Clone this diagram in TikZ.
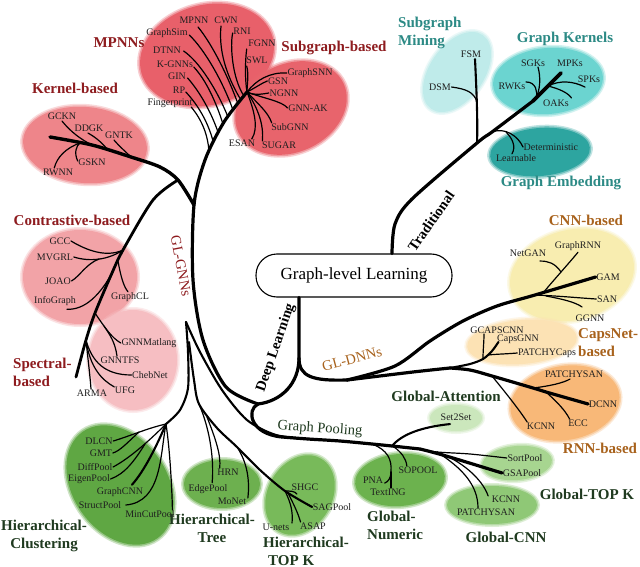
\documentclass[tikz,border=0pt]{standalone}
\usepackage{fontspec}
\setmainfont{Liberation Serif}
\usetikzlibrary{calc}
\definecolor{cMP}{HTML}{E8606A}
\definecolor{cSB}{HTML}{E8646C}
\definecolor{cKB}{HTML}{EE858A}
\definecolor{cCB}{HTML}{F2A3A7}
\definecolor{cSP}{HTML}{F6BEC2}
\definecolor{cSM}{HTML}{BFEBEA}
\definecolor{cGK}{HTML}{6BD4D0}
\definecolor{cGE}{HTML}{2DA5A0}
\definecolor{cCN}{HTML}{F8EDB0}
\definecolor{cCA}{HTML}{FCE2B4}
\definecolor{cRN}{HTML}{F8B878}
\definecolor{cGA}{HTML}{CBE7BC}
\definecolor{cGT}{HTML}{A7D590}
\definecolor{cGC}{HTML}{8FC876}
\definecolor{cGN}{HTML}{6CB24E}
\definecolor{cHK}{HTML}{78BA5A}
\definecolor{cHT}{HTML}{6DB04F}
\definecolor{cHC}{HTML}{5FA743}
\definecolor{tRed}{HTML}{8E1C1F}
\definecolor{tTeal}{HTML}{2C8A85}
\definecolor{tBrown}{HTML}{A8621C}
\definecolor{tGreen}{HTML}{1F3A1F}
\newcommand\myblob[5]{%
  \fill[#5, opacity=0.3, rotate around={#4:#1}] #1 ellipse ({#2+3} and {#3+3});
  \fill[#5, opacity=0.5, rotate around={#4:#1}] #1 ellipse ({#2+1.5} and {#3+1.5});
  \fill[#5, rotate around={#4:#1}] #1 ellipse (#2 and #3);}
\begin{document}
\begin{tikzpicture}[x=1pt,y=-1pt,line join=round,
  leaf/.style={font=\fontsize{10}{11}\selectfont, inner sep=0.5pt, text=black!88},
  cat/.style={font=\fontsize{15}{18}\selectfont\bfseries, inner sep=0pt},
  brl/.style={font=\fontsize{14.5}{16}\selectfont, inner sep=0pt},
  brb/.style={font=\fontsize{14.5}{16}\selectfont\bfseries, inner sep=0pt},
  lf/.style={line width=1.2pt, line cap=round},
  md/.style={line width=2.1pt, line cap=round},
  tk/.style={line width=3.2pt, line cap=round}]
\useasboundingbox (0,0) rectangle (640,567);
\fill[white] (0,0) rectangle (640,567);
% ---------------- blobs
\myblob{(207,55)}{68}{50}{15}{cMP}
\myblob{(291,108)}{58}{44}{25}{cSB}
\myblob{(85,145)}{62}{38}{-5}{cKB}
\myblob{(80,277)}{57}{47}{0}{cCB}
\myblob{(133,360)}{44}{50}{0}{cSP}
\myblob{(457,72)}{45}{27}{55}{cSM}
\myblob{(548,81)}{55}{33}{5}{cGK}
\myblob{(540,152)}{50}{24}{5}{cGE}
\myblob{(572,275)}{63}{45}{15}{cCN}
\myblob{(522,342)}{55}{22}{5}{cCA}
\myblob{(565,403)}{55}{37}{10}{cRN}
\myblob{(456,418)}{26}{13}{0}{cGA}
\myblob{(517,463)}{35}{17}{5}{cGT}
\myblob{(492,505)}{45}{19}{0}{cGC}
\myblob{(400,480)}{45}{26}{5}{cGN}
\myblob{(300,495)}{42}{32}{60}{cHK}
\myblob{(222,484)}{38}{24}{0}{cHT}
\myblob{(120,485)}{65}{47}{-55}{cHC}
% ---------------- root
\node[draw, line width=1.1pt, rounded corners=21pt, minimum width=196pt, minimum height=43pt,
      font=\fontsize{17}{20}\selectfont] (root) at (354,275.5) {Graph-level Learning};
% ---------------- category labels
\node[cat, text=tRed] (cMPNNs) at (119,43) {MPNNs};
\node[cat, text=tRed] (cSub) at (334,48) {Subgraph-based};
\node[cat, text=tRed] (cKer) at (75,88) {Kernel-based};
\node[cat, text=tRed] (cCon) at (72,220) {Contrastive-based};
\node[cat, text=tRed, align=left, anchor=west] (cSpe) at (13,372) {Spectral-\\based};
\node[cat, text=tTeal, align=left, anchor=west] (cSMi) at (398,33) {Subgraph\\Mining};
\node[cat, text=tTeal] (cGKe) at (565,39) {Graph Kernels};
\node[cat, text=tTeal] (cGEm) at (561,183) {Graph Embedding};
\node[cat, text=tBrown] (cCNN) at (586,220) {CNN-based};
\node[cat, text=tBrown, align=left, anchor=west] (cCaps) at (578,343) {CapsNet-\\based};
\node[cat, text=tBrown] (cRNN) at (600,448) {RNN-based};
\node[cat, text=tGreen] (cGAtt) at (446,396) {Global-Attention};
\node[cat, text=tGreen] (cGTK) at (587,494) {Global-TOP K};
\node[cat, text=tGreen] (cGCNN) at (506,537) {Global-CNN};
\node[cat, text=tGreen, align=left, anchor=west] (cGNum) at (367,525) {Global-\\Numeric};
\node[cat, text=tGreen, align=left, anchor=west] (cHTK) at (263,551) {Hierarchical-\\\hspace{5pt}TOP K};
\node[cat, text=tGreen, align=center] (cHTr) at (212,528) {Hierarchical-\\Tree};
\node[cat, text=tGreen, align=center] (cHCl) at (44,536) {Hierarchical-\\Clustering};
% ---------------- branch labels
\node[brl, text=tRed, rotate=-79] (lGNN) at (181,266) {GL-GNNs};
\node[brb, rotate=71] (lDL) at (276,348) {Deep Learning};
\node[brl, text=tBrown, rotate=15] (lDNN) at (352,359) {GL-DNNs};
\node[brb, rotate=55] (lTr) at (431,221) {Traditional};
\node[brl, text=tGreen, rotate=-4] (lGP) at (320,429) {Graph Pooling};
% ---------------- leaves
\node[leaf] (MPNN) at (194,20) {MPNN};
\node[leaf] (CWN) at (226,20) {CWN};
\node[leaf] (RNI) at (242,31) {RNI};
\node[leaf] (FGNN) at (262,43) {FGNN};
\node[leaf] (SWL) at (257,60) {SWL};
\node[leaf] (GraphSim) at (167,33) {GraphSim};
\node[leaf] (DTNN) at (167,50) {DTNN};
\node[leaf] (KGNNs) at (175,64) {K-GNNs};
\node[leaf] (GIN) at (177,76) {GIN};
\node[leaf] (RP) at (179,90) {RP};
\node[leaf] (Fingerprint) at (170,103) {Fingerprint};
\node[leaf] (GraphSNN) at (310,73) {GraphSNN};
\node[leaf] (GSN) at (278,81) {GSN};
\node[leaf] (NGNN) at (284,93) {NGNN};
\node[leaf] (GNNAK) at (308,108) {GNN-AK};
\node[leaf] (SubGNN) at (290,127) {SubGNN};
\node[leaf] (ESAN) at (242,143) {ESAN};
\node[leaf] (SUGAR) at (279,145) {SUGAR};
\node[leaf] (GCKN) at (62,116) {GCKN};
\node[leaf] (DDGK) at (89,128) {DDGK};
\node[leaf] (GNTK) at (119,135) {GNTK};
\node[leaf] (GSKN) at (92,162) {GSKN};
\node[leaf] (RWNN) at (58,172) {RWNN};
\node[leaf] (GCC) at (60,241) {GCC};
\node[leaf] (MVGRL) at (55,257) {MVGRL};
\node[leaf] (JOAO) at (58,281) {JOAO};
\node[leaf] (InfoGraph) at (55,301) {InfoGraph};
\node[leaf] (GraphCL) at (130,297) {GraphCL};
\node[leaf] (GNNMatlang) at (149,343) {GNNMatlang};
\node[leaf] (GNNTFS) at (120,360) {GNNTFS};
\node[leaf] (ChebNet) at (150,375) {ChebNet};
\node[leaf] (UFG) at (125,390) {UFG};
\node[leaf] (ARMA) at (92,393) {ARMA};
\node[leaf] (DLCN) at (99,441) {DLCN};
\node[leaf] (GMT) at (101,453) {GMT};
\node[leaf] (DiffPool) at (95,467) {DiffPool};
\node[leaf] (EigenPool) at (89,479) {EigenPool};
\node[leaf] (GraphCNN) at (120,492) {GraphCNN};
\node[leaf] (StructPool) at (100,505) {StructPool};
\node[leaf] (MinCutPool) at (150,514) {MinCutPool};
\node[leaf] (HRN) at (228,472) {HRN};
\node[leaf] (EdgePool) at (208,489) {EdgePool};
\node[leaf] (MoNet) at (232,501) {MoNet};
\node[leaf] (SHGC) at (305,487) {SHGC};
\node[leaf] (SAGPool) at (332,507) {SAGPool};
\node[leaf] (Unets) at (276,527) {U-nets};
\node[leaf] (ASAP) at (313,526) {ASAP};
\node[leaf] (PNA) at (373,480) {PNA};
\node[leaf] (SOPOOL) at (418,470) {SOPOOL};
\node[leaf] (TextING) at (388,492) {TextING};
\node[leaf] (SortPool) at (525,458) {SortPool};
\node[leaf] (GSAPool) at (522,473) {GSAPool};
\node[leaf] (KCg) at (506,499) {KCNN};
\node[leaf] (PSg) at (486,512) {PATCHYSAN};
\node[leaf] (Set2Set) at (456,417) {Set2Set};
\node[leaf] (PSr) at (574,374) {PATCHYSAN};
\node[leaf] (DCNN) at (603,404) {DCNN};
\node[leaf] (KCr) at (541,426) {KCNN};
\node[leaf] (ECC) at (578,423) {ECC};
\node[leaf] (GCAPSCNN) at (497,330) {GCAPSCNN};
\node[leaf] (CapsGNN) at (518,339) {CapsGNN};
\node[leaf] (PATCHYCaps) at (547,353) {PATCHYCaps};
\node[leaf] (NetGAN) at (528,253) {NetGAN};
\node[leaf] (GraphRNN) at (578,246) {GraphRNN};
\node[leaf] (GAM) at (608,277) {GAM};
\node[leaf] (SAN) at (607,299) {SAN};
\node[leaf] (GGNN) at (590,318) {GGNN};
\node[leaf] (FSM) at (471,54) {FSM};
\node[leaf] (DSM) at (440,87) {DSM};
\node[leaf] (SGKs) at (533,63) {SGKs};
\node[leaf] (MPKs) at (570,63) {MPKs};
\node[leaf] (SPKs) at (589,79) {SPKs};
\node[leaf] (RWKs) at (512,86) {RWKs};
\node[leaf] (OAKs) at (556,103) {OAKs};
\node[leaf, anchor=west] (Deterministic) at (523,147) {Deterministic};
\node[leaf] (Learnable) at (516,158) {Learnable};
% ================= connectors
% Traditional
\coordinate (t0) at ($(root.north)+(38,0)$);
\coordinate (tSM) at (477,143);
\coordinate (tGE) at (492,132);
\coordinate (tGK) at (533,101);
\coordinate (tEnd) at (561,73);
\draw[tk] plot[smooth] coordinates {(t0) (395,224) (412,199) (tSM) (tGE) (tGK)};
\draw[line width=3.6pt, line cap=round] (tGK) -- (tEnd);
% Subgraph mining
\coordinate (smJ) at (477,102);
\draw[md] (tSM) .. controls (478,120) and (476,80) .. ($(FSM.south)+(4,1)$);
\draw[lf] (smJ) .. controls (474,92) and (466,89) .. (DSM.east);
% Graph embedding
\coordinate (geJ) at (506,132);
\draw[lf] (tGE) .. controls (505,127) and (518,136) .. (Deterministic.west);
\draw[lf] (geJ) .. controls (513,139) and (516,147) .. ($(Learnable.north)+(-4,0)$);
% Graph kernels
\coordinate (kgA) at (536,98);
\coordinate (kgB) at (548,86);
\draw[lf] (RWKs.north east) .. controls (536,82) and (538,92) .. (kgA);
\draw[lf] ($(SGKs.south)+(5,0)$) .. controls (541,78) and (540,90) .. (kgA);
\draw[lf] (kgB) .. controls (560,80) and (573,81) .. ($(SPKs.south)+(-4,4)$);
\draw[lf] (kgB) .. controls (560,89) and (568,93) .. ($(OAKs.north east)+(2,-1)$);
% Deep learning
\coordinate (d0) at ($(root.south)+(-55,0)$);
\coordinate (dS) at (299,358);
\coordinate (uB) at (258,404);
\coordinate (dnn0) at (347,380);
\draw[tk] (d0) -- (dS) .. controls (299,383) and (282,401) .. (uB);
\draw[tk] (dS) .. controls (299,377) and (313,381) .. (dnn0);
% GL-GNNs trunk
\coordinate (kJ) at (194,205);
\coordinate (gTop) at (247,92);
\draw[tk] plot[smooth] coordinates {(uB) (226,387) (203,340) (193,280) (kJ) (205,160) (224,122) (gTop)};
% kernel-based
\coordinate (kEnd) at (50,137);
\coordinate (kS) at (178,180);
\coordinate (kG0) at (80,143);
\coordinate (kG1) at (92,145);
\coordinate (kG2) at (108,150);
\coordinate (kG3) at (131,157);
\draw[line width=3.4pt, line cap=round] plot[smooth] coordinates {(kEnd) (kG1) (kG3) (160,167) (kS) (kJ)};
\draw[lf] ($(GCKN.south)+(0,1)$) .. controls (70,131) and (80,139) .. (kG1);
\draw[lf] ($(DDGK.south)+(-1,1)$) .. controls (97,138) and (103,144) .. (kG2);
\draw[lf] ($(GNTK.south)+(-5,1)$) .. controls (120,147) and (126,152) .. (kG3);
\draw[lf] ($(GSKN.west)+(0,-1)$) .. controls (74,153) and (76,146) .. (kG0);
\draw[lf] ($(RWNN.north west)+(12,0)$) .. controls (57,157) and (66,148) .. (kG0);
% contrastive / spectral trunk
\coordinate (cJ) at (123,250);
\coordinate (cJ2) at (112,273);
\coordinate (sJ) at (95,313);
\coordinate (sK) at (86,340);
\coordinate (sEnd) at (76,377);
\draw[line width=2.8pt, line cap=round] plot[smooth] coordinates {(kS) (153,200) (cJ) (cJ2) (sJ) (sK) (sEnd)};
\coordinate (jJ) at (99,259);
\coordinate (gcl) at (118,261);
\draw[lf] (GCC.east) .. controls (86,250) and (106,258) .. (cJ);
\draw[lf] (MVGRL.east) .. controls (90,262) and (108,260) .. (cJ);
\draw[lf] (JOAO.east) .. controls (80,276) and (86,264) .. (jJ);
\draw[lf] ($(InfoGraph.south)+(12,3)$) .. controls (85,310) and (100,295) .. (cJ2);
\draw[lf] (gcl) .. controls (121,278) and (124,287) .. ($(GraphCL.north)+(-2,0)$);
\coordinate (gmt) at (104,326);
\draw[lf] (sJ) .. controls (105,328) and (112,338) .. (GNNMatlang.west);
\draw[lf] (gmt) .. controls (110,335) and (115,342) .. ($(GNNTFS.north)+(-3,0)$);
\draw[lf] (sK) .. controls (92,362) and (105,375) .. (ChebNet.west);
\draw[lf] (sK) .. controls (90,368) and (102,380) .. ($(UFG.north west)+(0,1)$);
\draw[lf] (sK) .. controls (88,360) and (90,375) .. ($(ARMA.north)+(-1,0)$);
% MPNNs
\coordinate (m1) at (209,152);
\coordinate (m2) at (213,141);
\coordinate (m3) at (218,132);
\coordinate (m4) at (223,124);
\coordinate (m5) at (228,117);
\coordinate (m6) at (233,110);
\coordinate (m7) at (238,104);
\coordinate (m8) at (241,100);
\coordinate (m9) at (244,96);
\draw[lf] ($(Fingerprint.east)+(-2,4)$) .. controls (202,120) and (208,135) .. (m1);
\draw[lf] ($(RP.east)+(0,2)$) .. controls (198,105) and (208,122) .. (m2);
\draw[lf] ($(GIN.east)+(1,2)$) .. controls (200,92) and (211,112) .. (m3);
\draw[lf] ($(KGNNs.east)+(0,3)$) .. controls (206,80) and (216,102) .. (m4);
\draw[lf] ($(DTNN.east)+(2,1)$) .. controls (200,62) and (218,92) .. (m5);
\draw[lf] ($(GraphSim.east)+(1,2)$) .. controls (205,50) and (223,82) .. (m6);
\draw[lf] ($(MPNN.south)+(4,3)$) .. controls (212,44) and (228,76) .. (m7);
\draw[lf] ($(CWN.south)+(-5,2)$) .. controls (218,55) and (230,82) .. (m8);
\draw[lf] ($(RNI.west)+(0,2)$) .. controls (230,45) and (232,78) .. (m9);
\draw[lf] ($(FGNN.south west)+(-1,2)$) .. controls (245,62) and (245,80) .. (gTop);
\draw[lf] ($(SWL.south west)+(1,2)$) .. controls (249,75) and (247,85) .. (gTop);
% Subgraph-based
\draw[lf] (gTop) .. controls (256,80) and (270,72) .. (GraphSNN.west);
\draw[lf] (gTop) .. controls (255,88) and (262,83) .. (GSN.west);
\draw[lf] (gTop) .. controls (255,96) and (262,94) .. (NGNN.west);
\draw[lf] (gTop) .. controls (262,98) and (282,101) .. (GNNAK.west);
\draw[lf] (gTop) .. controls (258,104) and (268,112) .. ($(SubGNN.north west)+(1,0)$);
\draw[lf] (gTop) .. controls (258,108) and (264,125) .. ($(SUGAR.north west)+(1,0)$);
\draw[lf] (gTop) .. controls (254,110) and (259,128) .. ($(ESAN.north east)+(-4,0)$);
% GL-DNNs
\coordinate (dnnJ) at (450,368);
\draw[tk] plot[smooth] coordinates {(dnn0) (413,372) (dnnJ)};
% CNN-based
\coordinate (cnnJ) at (535,295);
\draw[tk] plot[smooth] coordinates {(dnn0) (395,366) (430,341) (463,321) (497,306) (cnnJ) (GAM.west)};
\coordinate (cn1) at (543,293);
\coordinate (cn2) at (561,272);
\coordinate (cn3) at (546,296);
\draw[lf] (cn1) .. controls (552,282) and (570,262) .. ($(GraphRNN.south)+(0,1)$);
\draw[lf] (cn2) .. controls (555,263) and (548,261) .. ($(NetGAN.south)+(12,4)$);
\draw[lf] (cnnJ) .. controls (560,296) and (580,298) .. (SAN.west);
\draw[lf] (cn3) .. controls (562,299) and (575,302) .. ($(GGNN.north)+(-8,-7)$);
% CapsNet-based
\coordinate (cp1) at (483,359);
\coordinate (cp2) at (488,355);
\coordinate (cpE) at ($(CapsGNN.west)+(2,3)$);
\draw[md] plot[smooth] coordinates {(dnnJ) (470,364) (cp1) (492,351) (cpE)};
\draw[lf] (cp1) .. controls (483,350) and (484,342) .. ($(GCAPSCNN.south)+(-13,0)$);
\draw[lf] (cp2) .. controls (498,354) and (506,354) .. (PATCHYCaps.west);
% RNN-based
\coordinate (r0) at (492,376);
\coordinate (r1) at (533,388);
\coordinate (r2) at (546,392);
\draw[tk] plot[smooth] coordinates {(dnnJ) (470,370) (r0) (r1) (r2) (560,396) (DCNN.west)};
\draw[lf] (r1) .. controls (550,386) and (563,383) .. ($(PSr.south)+(-4,1)$);
\draw[lf] (r2) .. controls (557,402) and (565,410) .. ($(ECC.north west)+(2,0)$);
\draw[lf] (r0) .. controls (505,392) and (518,408) .. ($(KCr.north west)+(1,0)$);
% Graph pooling
\coordinate (gpA) at (282,437);
\coordinate (gpM) at (308,439);
\coordinate (gpN) at (372,444);
\coordinate (gpS) at (392,446);
\coordinate (gpG) at (420,449);
\coordinate (gcJ) at (437,452);
\draw[tk] (uB) .. controls (246,410) and (250,434) .. (gpA);
\draw[tk] plot[smooth] coordinates {(gpA) (gpM) (340,441) (gpN) (gpS) (gpG)};
\draw[lf] plot[smooth] coordinates {(gpG) (gcJ) (470,454) (SortPool.west)};
\draw[tk] (gpG) .. controls (445,455) and (472,464) .. (GSAPool.west);
\draw[lf] (gcJ) .. controls (460,460) and (482,478) .. ($(KCg.north west)+(-3,1)$);
\draw[lf] (gcJ) .. controls (462,468) and (478,485) .. ($(PSg.north)+(-8,0)$);
\draw[md] (gpS) .. controls (402,434) and (422,427) .. ($(Set2Set.south)+(-6,3)$);
\coordinate (nJ) at (391,472);
\draw[lf] (gpN) .. controls (388,450) and (392,460) .. (nJ);
\draw[lf] (nJ) .. controls (391,478) and (388,482) .. ($(PNA.east)+(1,3)$);
\draw[lf] (nJ) -- ($(TextING.north)+(3,0)$);
\draw[lf] ($(gpS)+(2,1)$) .. controls (401,452) and (406,458) .. ($(SOPOOL.north west)+(9,0)$);
% Hierarchical
\coordinate (T) at (186,322);
\coordinate (cS) at (189,342);
\coordinate (hcJ) at (166,424);
\draw[md] plot[smooth] coordinates {(gpM) (276,435) (247,420) (222,390) (200,352) (T)};
\draw[md] plot[smooth] coordinates {(T) (188,352) (188,388) (180,410) (hcJ)};
\coordinate (trJ1) at (199,404);
\coordinate (trJ2) at (207,417);
\coordinate (trJ3) at (237,447);
\coordinate (tkJ) at (285,491);
\draw[md] plot[smooth] coordinates {(cS) (194,380) (trJ1) (217,428) (trJ3) (260,470) (tkJ) (SAGPool.west)};
\draw[lf] (trJ1) .. controls (211,432) and (214,462) .. ($(EdgePool.north east)+(-16,-1)$);
\draw[lf] (trJ2) .. controls (216,440) and (221,455) .. ($(HRN.north west)+(3,0)$);
\draw[lf] (trJ3) .. controls (247,462) and (250,480) .. ($(MoNet.east)+(1,-3)$);
\draw[lf] (tkJ) .. controls (290,491) and (295,491) .. ($(SHGC.south west)+(6,3)$);
\draw[lf] (tkJ) .. controls (291,503) and (293,512) .. ($(Unets.north east)+(2,0)$);
\draw[lf] ($(tkJ)+(3,2)$) .. controls (294,505) and (298,513) .. ($(ASAP.north west)+(1,0)$);
\coordinate (gmJ) at (139,432);
\coordinate (eJ) at (145,444);
\draw[lf] (hcJ) .. controls (148,428) and (130,436) .. (DLCN.east);
\draw[lf] (gmJ) .. controls (128,442) and (120,451) .. (GMT.east);
\draw[lf] (hcJ) .. controls (150,440) and (130,458) .. (DiffPool.east);
\draw[lf] (eJ) .. controls (135,460) and (125,474) .. (EigenPool.east);
\draw[md] (hcJ) .. controls (157,445) and (145,470) .. ($(GraphCNN.north)+(12,-2)$);
\draw[lf] (hcJ) .. controls (160,455) and (162,502) .. ($(StructPool.east)+(4,0)$);
\draw[lf] (hcJ) .. controls (170,450) and (172,490) .. ($(MinCutPool.north east)+(-3,0)$);
\end{tikzpicture}
\end{document}
